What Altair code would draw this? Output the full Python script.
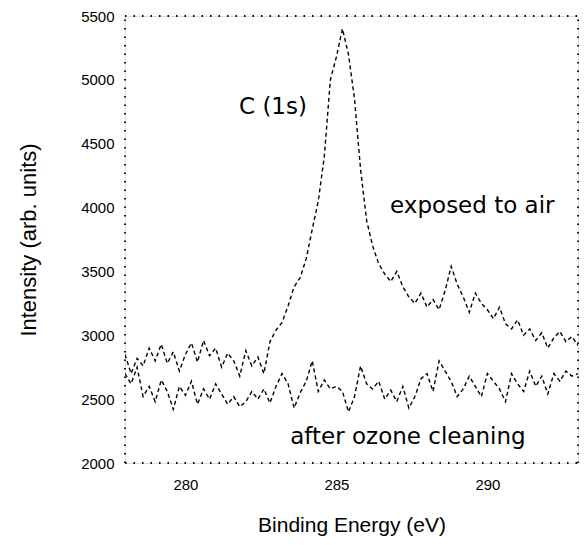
import altair as alt
import pandas as pd

energy = [278.0, 278.2, 278.4, 278.6, 278.8, 279.0, 279.2, 279.4, 279.6, 279.8,
          280.0, 280.2, 280.4, 280.6, 280.8, 281.0, 281.2, 281.4, 281.6, 281.8,
          282.0, 282.2, 282.4, 282.6, 282.8, 283.0, 283.2, 283.4, 283.6, 283.8,
          284.0, 284.2, 284.4, 284.6, 284.8, 285.0, 285.2, 285.4, 285.6, 285.8,
          286.0, 286.2, 286.4, 286.6, 286.8, 287.0, 287.2, 287.4, 287.6, 287.8,
          288.0, 288.2, 288.4, 288.6, 288.8, 289.0, 289.2, 289.4, 289.6, 289.8,
          290.0, 290.2, 290.4, 290.6, 290.8, 291.0, 291.2, 291.4, 291.6, 291.8,
          292.0, 292.2, 292.4, 292.6, 292.8, 293.0]

exposed_to_air = [2850, 2700, 2820, 2760, 2900, 2800, 2930, 2780, 2870, 2720,
                  2850, 2940, 2790, 2960, 2840, 2900, 2750, 2860, 2800, 2680,
                  2880, 2760, 2830, 2700, 2950, 3040, 3100, 3230, 3380, 3450,
                  3600, 3830, 4050, 4400, 5000, 5180, 5400, 5200, 4850, 4300,
                  3900, 3700, 3560, 3480, 3420, 3500, 3380, 3300, 3250, 3330,
                  3220, 3280, 3200, 3350, 3540, 3400, 3300, 3180, 3330, 3250,
                  3200, 3130, 3220, 3090, 3050, 3120, 3000, 3050, 2960, 3020,
                  2900, 2980, 3030, 2950, 2990, 2920]

after_ozone = [2700, 2620, 2750, 2520, 2600, 2480, 2650, 2560, 2420, 2600,
               2530, 2640, 2460, 2580, 2500, 2620, 2540, 2460, 2520, 2440,
               2480, 2560, 2500, 2580, 2470, 2600, 2700, 2620, 2430, 2550,
               2640, 2800, 2560, 2650, 2580, 2600, 2560, 2400, 2520, 2760,
               2620, 2580, 2640, 2500, 2570, 2480, 2600, 2430, 2520, 2660,
               2700, 2560, 2800, 2720, 2640, 2520, 2580, 2680, 2600, 2520,
               2700, 2640, 2580, 2480, 2700, 2620, 2560, 2720, 2600, 2680,
               2540, 2700, 2640, 2720, 2680, 2700]

label_text = ["C (1s)", "exposed to air", "after ozone cleaning"]
label_x = [282.9, 289.5, 287.37]
label_y = [4790, 4010, 2200]

x_ticks = [280, 285, 290]
y_ticks = [2000, 2500, 3000, 3500, 4000, 4500, 5000, 5500]

x_min, x_max = 278, 293
y_min, y_max = 2000, 5500

rows = []
for e, a, o in zip(energy, exposed_to_air, after_ozone):
    rows.append({"energy": e, "intensity": a, "series": "exposed to air"})
    rows.append({"energy": e, "intensity": o, "series": "after ozone cleaning"})
df = pd.DataFrame(rows)
labels = pd.DataFrame({"text": label_text, "energy": label_x, "intensity": label_y})
frame = pd.DataFrame({
    "x1": [x_min, x_min, x_min, x_max],
    "x2": [x_max, x_max, x_min, x_max],
    "y1": [y_min, y_max, y_min, y_min],
    "y2": [y_min, y_max, y_max, y_max],
})

FONT = "DejaVu Sans"

xscale = alt.Scale(domain=[x_min, x_max], nice=False, zero=False)
yscale = alt.Scale(domain=[y_min, y_max], nice=False, zero=False)

xaxis = alt.Axis(values=x_ticks, title="Binding Energy (eV)", format="d",
                 labelFontSize=15, labelPadding=14, titleFontSize=21,
                 titlePadding=22, titleFontWeight="normal", grid=False,
                 ticks=False, domain=False)
yaxis = alt.Axis(values=y_ticks, title="Intensity (arb. units)", format="d",
                 labelFontSize=15, labelPadding=11, titleFontSize=22,
                 titlePadding=40, titleFontWeight="normal", grid=False,
                 ticks=False, domain=False)

lines = alt.Chart(df).mark_line(
    color="black", strokeWidth=1.4, strokeDash=[4, 3], clip=True
).encode(
    x=alt.X("energy:Q", scale=xscale, axis=xaxis),
    y=alt.Y("intensity:Q", scale=yscale, axis=yaxis),
    detail="series:N",
)

borders = alt.Chart(frame).mark_rule(
    color="black", strokeWidth=1.8, strokeDash=[1.5, 7]
).encode(
    x=alt.X("x1:Q", scale=xscale, axis=xaxis), x2="x2:Q",
    y=alt.Y("y1:Q", scale=yscale, axis=yaxis), y2="y2:Q",
)

texts = alt.Chart(labels).mark_text(
    font=FONT, fontSize=23, color="black", align="center", baseline="middle"
).encode(
    x=alt.X("energy:Q", scale=xscale, axis=xaxis),
    y=alt.Y("intensity:Q", scale=yscale, axis=yaxis),
    text="text:N",
)

chart = alt.layer(lines, borders, texts).properties(
    width=453, height=447,
    padding={"left": 125, "top": 16, "right": 7, "bottom": 82},
    autosize=alt.AutoSizeParams(type="none"),
).configure_view(
    stroke=None
).configure_axis(
    grid=False, ticks=False, domain=False,
    labelFont=FONT, titleFont=FONT, labelColor="black", titleColor="black",
).configure(background="white")

chart.save("out.html", embed_options={"renderer": "svg", "actions": False})
